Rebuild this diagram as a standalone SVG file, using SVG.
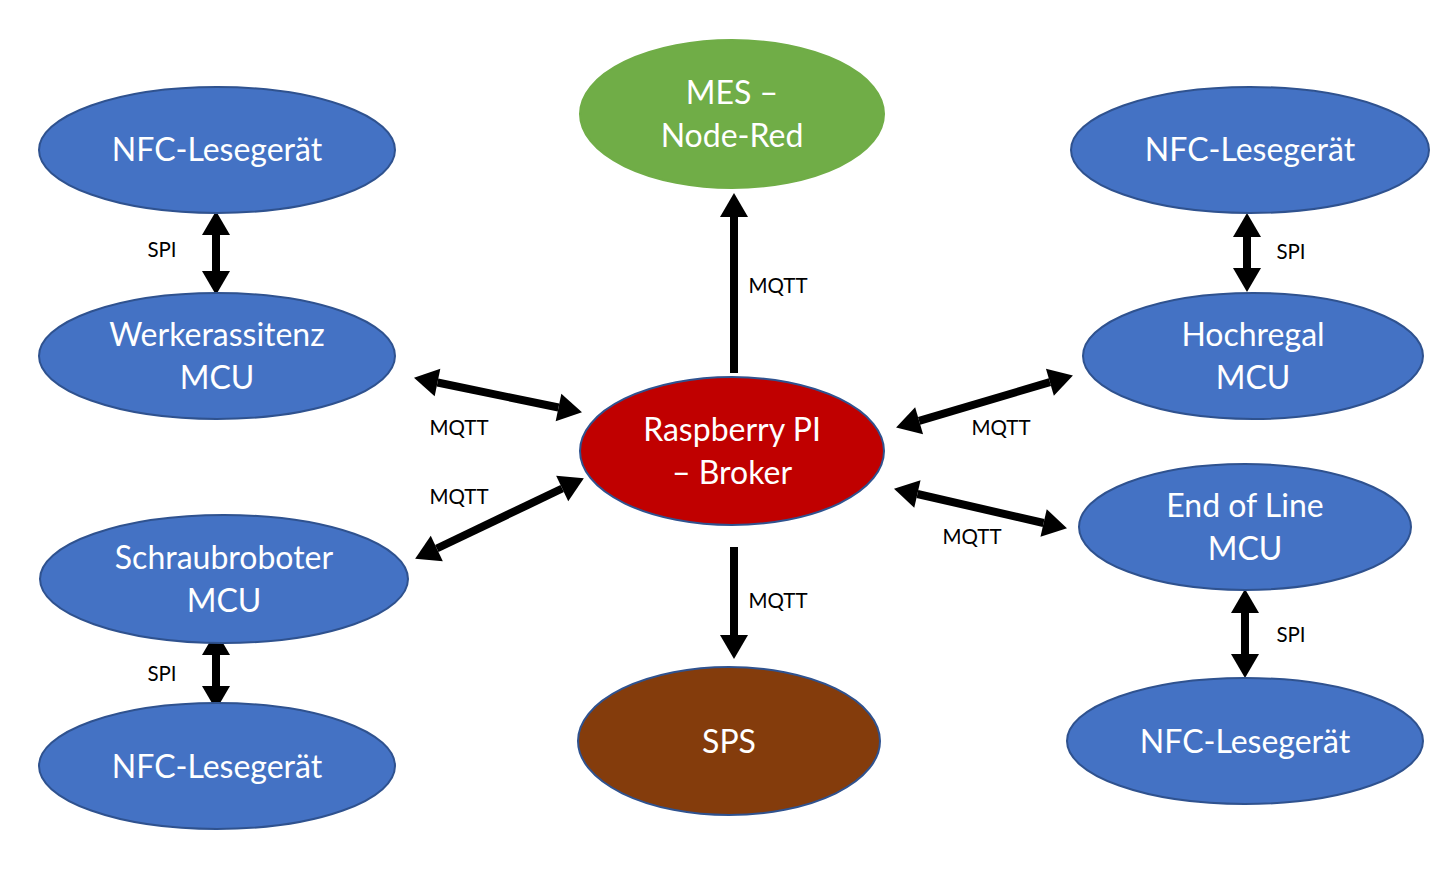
<svg xmlns="http://www.w3.org/2000/svg" width="1446" height="879" viewBox="0 0 1446 879">
<defs>
<marker id="ah" markerUnits="userSpaceOnUse" markerWidth="28" markerHeight="28" refX="0" refY="14" orient="auto-start-reverse" viewBox="0 0 28 28" overflow="visible">
<path d="M0,0 L24,14 L0,28 z" fill="#000"/>
</marker>
</defs>
<style>
.blue{fill:#4472C4;stroke:#2F528F;stroke-width:2}
.green{fill:#70AD47;stroke:#70AD47;stroke-width:2}
.red{fill:#C00000;stroke:#2F528F;stroke-width:2}
.brown{fill:#843C0C;stroke:#2F528F;stroke-width:2}
.nt{font-family:Lato,"Open Sans","Liberation Sans",sans-serif;font-size:32px;fill:#fff;text-anchor:middle}
.lt{font-family:Lato,"Open Sans","Liberation Sans",sans-serif;font-size:20.5px;fill:#000;text-anchor:middle}
.c{stroke:#000;stroke-width:8;fill:none}
.both{marker-start:url(#ah);marker-end:url(#ah)}
.one{marker-end:url(#ah)}
</style>
<rect width="1446" height="879" fill="#fff"/>
<g id="connectors">
<line class="c both" x1="437.5" y1="382.5" x2="558.5" y2="407.5"/>
<line class="c both" x1="436.8" y1="548.5" x2="562.2" y2="488.5"/>
<line class="c one" x1="734" y1="373" x2="734" y2="217"/>
<line class="c one" x1="734" y1="547" x2="734" y2="635"/>
<line class="c both" x1="919.1" y1="420.8" x2="1049.9" y2="382.2"/>
<line class="c both" x1="917.4" y1="494" x2="1043.6" y2="523"/>
<line class="c both" x1="216" y1="235" x2="216" y2="271"/>
<line class="c both" x1="216" y1="655" x2="216" y2="686"/>
<line class="c both" x1="1247" y1="237" x2="1247" y2="268"/>
<line class="c both" x1="1245" y1="613" x2="1245" y2="654"/>
<text class="lt" x="459" y="435">MQTT</text>
<text class="lt" x="459" y="504">MQTT</text>
<text class="lt" x="778" y="293">MQTT</text>
<text class="lt" x="778" y="608">MQTT</text>
<text class="lt" x="1001" y="435">MQTT</text>
<text class="lt" x="972" y="544">MQTT</text>
<text class="lt" x="162" y="257">SPI</text>
<text class="lt" x="162" y="681">SPI</text>
<text class="lt" x="1291" y="259">SPI</text>
<text class="lt" x="1291" y="642">SPI</text>
</g>
<g id="nfc-tl"><ellipse class="blue" cx="217" cy="150" rx="178" ry="63"/><text class="nt" x="217" y="161">NFC-Lesegerät</text></g>
<g id="werker"><ellipse class="blue" cx="217" cy="356" rx="178" ry="63"/><text class="nt" x="217" y="346">Werkerassitenz</text><text class="nt" x="217" y="389">MCU</text></g>
<g id="schraub"><ellipse class="blue" cx="224" cy="579" rx="184" ry="64"/><text class="nt" x="224" y="569">Schraubroboter</text><text class="nt" x="224" y="612">MCU</text></g>
<g id="nfc-bl"><ellipse class="blue" cx="217" cy="766" rx="178" ry="63"/><text class="nt" x="217" y="778">NFC-Lesegerät</text></g>
<g id="mes"><ellipse class="green" cx="732" cy="114" rx="152" ry="74"/><text class="nt" x="732" y="104">MES –</text><text class="nt" x="732" y="147">Node-Red</text></g>
<g id="rpi"><ellipse class="red" cx="732" cy="451" rx="152" ry="74"/><text class="nt" x="732" y="441">Raspberry PI</text><text class="nt" x="732" y="484">– Broker</text></g>
<g id="sps"><ellipse class="brown" cx="729" cy="741" rx="151" ry="74"/><text class="nt" x="729" y="753">SPS</text></g>
<g id="nfc-tr"><ellipse class="blue" cx="1250" cy="150" rx="179" ry="63"/><text class="nt" x="1250" y="161">NFC-Lesegerät</text></g>
<g id="hochregal"><ellipse class="blue" cx="1253" cy="356" rx="170" ry="63"/><text class="nt" x="1253" y="346">Hochregal</text><text class="nt" x="1253" y="389">MCU</text></g>
<g id="eol"><ellipse class="blue" cx="1245" cy="527" rx="166" ry="63"/><text class="nt" x="1245" y="517">End of Line</text><text class="nt" x="1245" y="560">MCU</text></g>
<g id="nfc-br"><ellipse class="blue" cx="1245" cy="741" rx="178" ry="63"/><text class="nt" x="1245" y="753">NFC-Lesegerät</text></g>
</svg>
